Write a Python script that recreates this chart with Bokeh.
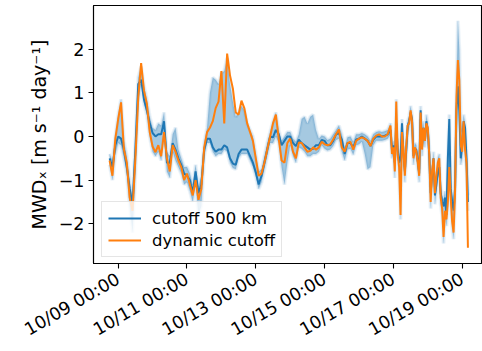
import math
from bokeh.plotting import figure
from bokeh.models import Range1d, FixedTicker, Legend, LegendItem
from bokeh.embed import file_html
from bokeh.resources import INLINE

# Time axis: hours after 10/09 00:00 (2-hourly, then hourly from 10/16 22:00)
hours = list(range(-6, 190, 2)) + list(range(190, 245))

# MWD_x with a fixed 500 km cutoff
mwd_500 = [
    -0.50, -0.70, -0.20, 0.00, -0.05, -0.30, -0.70, -1.20, -1.55, -0.30,
    1.20, 1.30, 0.85, 0.60, 0.30, 0.08, 0.00, 0.05, 0.05, 0.35,
    -0.60, -0.60, -0.15, -0.30, -0.50, -0.65, -0.85, -0.90, -1.00, -1.30,
    -0.80, -1.30, -1.10, -0.30, -0.05, -0.05, -0.25, -0.35, -0.30, -0.30,
    -0.20, -0.25, -0.50, -0.62, -0.65, -0.40, -0.30, -0.30, -0.30, -0.45,
    -0.60, -0.82, -1.10, -0.90, -0.60, -0.30, 0.00, -0.02, 0.15, 0.05,
    -0.20, -0.10, 0.00, 0.00, -0.15, -0.22, -0.07, -0.15, -0.20, -0.25,
    -0.30, -0.28, -0.20, -0.20, -0.08, -0.10, -0.20, -0.20, -0.10, 0.05,
    0.08, -0.07, -0.40, -0.15, -0.15, -0.25, -0.07, -0.05, 0.00, -0.05,
    -0.10, -0.22, -0.07, 0.00, 0.00, 0.00, 0.02, 0.05,
    0.15, -0.30, -0.20, -0.60, 0.30, -0.30, -0.60, -0.50, 0.30, -0.40,
    -0.80, -0.30, 0.25, 0.35, 0.55, 0.40, -0.45, -0.30, -0.30, -0.55,
    -0.85, 0.60, -0.25, 0.20, -0.10, 0.35, 0.15, -0.40, -1.30, -0.90,
    -0.50, -1.35, -1.10, -0.80, -0.70, -1.30, -1.50, -1.60, -1.40, -1.80,
    -0.50, 0.40, -1.20, -1.50, -1.70, -1.20, 0.60, 1.15, 0.60, -0.50,
    -0.20, 0.35, 0.20, -0.50, -1.50,
]

# MWD_x with the dynamic cutoff
mwd_dynamic = [
    -0.55, -0.90, -0.05, 0.40, 0.78, -0.30, -0.60, -1.40, -1.70, -0.50,
    0.90, 1.68, 1.05, 0.75, 0.10, -0.23, -0.36, -0.20, -0.45, 0.10,
    -0.50, -0.80, -0.20, -0.35, -0.55, -0.70, -1.00, -0.85, -1.10, -1.35,
    -1.00, -1.45, -1.20, -0.25, 0.10, 0.20, 0.35, 0.65, 0.80, 1.50,
    0.30, 1.90, 1.40, 1.10, 0.55, 0.50, 0.82, 0.65, 0.30, 0.10,
    -0.10, -0.50, -0.90, -0.85, -0.60, -0.30, 0.00, 0.30, 0.50, -0.05,
    -0.55, -0.60, -0.15, -0.05, -0.35, -0.50, -0.14, -0.15, -0.25, -0.35,
    -0.33, -0.25, -0.30, -0.25, -0.12, -0.18, -0.20, -0.18, -0.07, 0.05,
    0.16, -0.25, -0.35, -0.15, -0.12, -0.30, -0.10, -0.05, -0.02, -0.05,
    -0.10, -0.22, -0.05, 0.02, 0.05, 0.00, 0.00, 0.05,
    0.25, -0.40, -0.25, -0.80, 0.80, -0.40, -0.70, -1.80, 0.10, -0.30,
    -0.90, -0.20, 0.25, 0.30, 0.60, 0.35, -0.50, -0.25, -0.35, -0.60,
    -0.90, 0.55, -0.30, 0.20, -0.10, 0.30, 0.20, -0.40, -1.50, -0.80,
    -0.50, -1.30, -0.90, -0.60, -0.50, -1.40, -1.65, -2.30, -1.70, -1.90,
    -1.50, -0.70, -1.40, -1.95, -2.20, -1.30, 0.90, 1.75, 1.30, -0.20,
    -0.35, 0.35, -0.30, -0.60, -2.55,
]

# Spread across cutoff choices (lower / upper envelope)
spread_lo = [
    -0.65, -1.00, -0.40, -0.15, -0.20, -0.50, -0.85, -1.60, -2.20, -0.80,
    0.80, 1.20, 0.75, 0.50, 0.00, -0.35, -0.45, -0.35, -0.55, 0.00,
    -0.80, -0.95, -0.35, -0.55, -0.70, -0.85, -1.10, -1.05, -1.25, -1.50,
    -1.10, -1.80, -1.60, -0.45, -0.15, -0.15, -0.35, -0.45, -0.40, -0.40,
    -0.30, -0.35, -0.60, -0.72, -0.75, -0.50, -0.40, -0.40, -0.40, -0.55,
    -0.70, -0.92, -1.20, -1.05, -0.75, -0.45, -0.15, -0.15, 0.00, -0.15,
    -0.70, -1.10, -0.60, -0.20, -0.45, -0.60, -0.25, -0.28, -0.35, -0.45,
    -0.45, -0.40, -0.40, -0.35, -0.20, -0.28, -0.32, -0.30, -0.22, -0.08,
    -0.05, -0.35, -0.55, -0.30, -0.28, -0.42, -0.20, -0.18, -0.12, -0.40,
    -0.75, -0.70, -0.20, -0.10, -0.10, -0.10, -0.08, -0.05,
    0.05, -0.50, -0.35, -0.95, 0.20, -0.50, -0.85, -1.90, 0.00, -0.50,
    -1.05, -0.40, 0.10, 0.20, 0.45, 0.25, -0.65, -0.40, -0.45, -0.75,
    -1.05, 0.40, -0.45, 0.05, -0.25, 0.20, 0.05, -0.55, -1.65, -1.05,
    -0.65, -1.55, -1.25, -0.95, -0.85, -1.55, -1.80, -2.45, -1.85, -2.05,
    -1.60, -0.80, -1.55, -2.10, -2.35, -1.45, 0.45, 1.00, 0.45, -0.65,
    -0.50, 0.20, -0.40, -0.75, -1.70,
]
spread_hi = [
    -0.40, -0.55, 0.00, 0.50, 0.85, -0.10, -0.45, -1.00, -1.40, -0.10,
    1.35, 1.60, 1.15, 0.85, 0.45, 0.20, 0.15, 0.30, 0.25, 0.55,
    -0.35, -0.45, 0.05, 0.20, -0.30, -0.50, -0.70, -0.70, -0.85, -1.10,
    -0.65, -1.15, -0.90, -0.15, 0.20, 1.00, 1.35, 1.30, 1.20, 1.45,
    1.50, 1.80, 1.20, 0.80, 0.45, 0.55, 0.70, 0.60, 0.30, 0.15,
    0.00, -0.40, -0.80, -0.75, -0.45, -0.15, 0.10, 0.35, 0.55, 0.15,
    -0.10, 0.00, 0.10, 0.10, -0.05, -0.12, 0.05, 0.40, 0.45, 0.30,
    0.45, 0.50, 0.15, -0.05, 0.02, 0.00, -0.08, -0.05, 0.05, 0.15,
    0.25, 0.05, -0.25, -0.02, 0.00, -0.12, 0.05, 0.05, 0.08, 0.05,
    0.00, -0.10, 0.05, 0.10, 0.12, 0.10, 0.12, 0.15,
    0.30, -0.20, -0.10, -0.50, 0.85, -0.20, -0.50, -0.40, 0.40, -0.20,
    -0.70, -0.10, 0.35, 0.45, 0.70, 0.50, -0.35, -0.15, -0.20, -0.45,
    -0.75, 0.70, -0.15, 0.35, 0.00, 0.50, 0.30, -0.25, -1.15, -0.70,
    -0.35, -1.15, -0.80, -0.50, -0.40, -1.15, -1.35, -1.45, -1.25, -1.60,
    -0.40, 0.50, -1.05, -1.35, -1.55, -1.00, 1.10, 2.65, 2.00, 0.40,
    0.10, 0.50, 0.30, -0.35, -1.35,
]

tick_hours = [0, 48, 96, 144, 192, 240]
tick_labels = ["10/09 00:00", "10/11 00:00", "10/13 00:00",
               "10/15 00:00", "10/17 00:00", "10/19 00:00"]
y_ticks = [-2, -1, 0, 1, 2]
y_tick_labels = ["\u22122", "\u22121", "0", "1", "2"]
series_names = ["cutoff 500 km", "dynamic cutoff"]
y_title = "MWD\u2093 [m s\u207b\u00b9 day\u207b\u00b9]"

BLUE = "#1f77b4"
ORANGE = "#ff7f0e"
FONT = "DejaVu Sans"
TICK_SIZE = "17.5px"

p = figure(width=482, height=351, output_backend="svg", toolbar_location=None,
           x_range=Range1d(-17.23, 253.47), y_range=Range1d(-2.909, 3.0),
           min_border_left=93, min_border_right=1, min_border_top=5,
           min_border_bottom=86, background_fill_color="white",
           border_fill_color="white")

p.xgrid.visible = False
p.ygrid.visible = False
p.outline_line_color = "black"
p.outline_line_width = 1.1
p.outline_line_alpha = 1.0

# shaded spread with a soft edge
p.varea(x=hours, y1=spread_lo, y2=spread_hi, fill_color=BLUE, fill_alpha=0.4)
for edge in (spread_lo, spread_hi):
    p.line(hours, edge, line_color=BLUE, line_width=4, line_alpha=0.08)
    p.line(hours, edge, line_color=BLUE, line_width=2, line_alpha=0.12)

r_fixed = p.line(hours, mwd_500, line_color=BLUE, line_width=2.0)
r_dyn = p.line(hours, mwd_dynamic, line_color=ORANGE, line_width=2.0)

# axes
for ax in (p.xaxis[0], p.yaxis[0]):
    ax.major_label_text_font = FONT
    ax.major_label_text_font_size = TICK_SIZE
    ax.major_label_text_color = "black"
    ax.axis_line_color = "black"
    ax.axis_line_width = 1.1
    ax.major_tick_line_color = "black"
    ax.major_tick_line_width = 1.1
    ax.major_tick_out = 5
    ax.major_tick_in = 0
    ax.minor_tick_line_color = None

p.xaxis.ticker = FixedTicker(ticks=tick_hours)
p.xaxis.major_label_overrides = dict(zip(tick_hours, tick_labels))
p.xaxis.major_label_orientation = math.pi / 6
p.xaxis.major_label_standoff = 9

p.yaxis.ticker = FixedTicker(ticks=y_ticks)
p.yaxis.major_label_overrides = dict(zip(y_ticks, y_tick_labels))
p.yaxis.major_label_standoff = 4
p.yaxis.axis_label = y_title
p.yaxis.axis_label_text_font = FONT
p.yaxis.axis_label_text_font_size = "19px"
p.yaxis.axis_label_text_font_style = "normal"
p.yaxis.axis_label_text_color = "black"
p.yaxis.axis_label_standoff = 6

legend = Legend(items=[LegendItem(label=series_names[0], renderers=[r_fixed]),
                       LegendItem(label=series_names[1], renderers=[r_dyn])],
                location=(8, 6))
legend.label_text_font = FONT
legend.label_text_font_size = "16.5px"
legend.label_text_color = "black"
legend.glyph_width = 33
legend.glyph_height = 20
legend.label_height = 20
legend.label_standoff = 11
legend.spacing = 2
legend.padding = 6
legend.margin = 0
legend.border_line_color = "#cccccc"
legend.border_line_width = 1
legend.background_fill_color = "white"
legend.background_fill_alpha = 0.8
p.add_layout(legend)

open("out.html", "w").write(file_html(p, INLINE))
